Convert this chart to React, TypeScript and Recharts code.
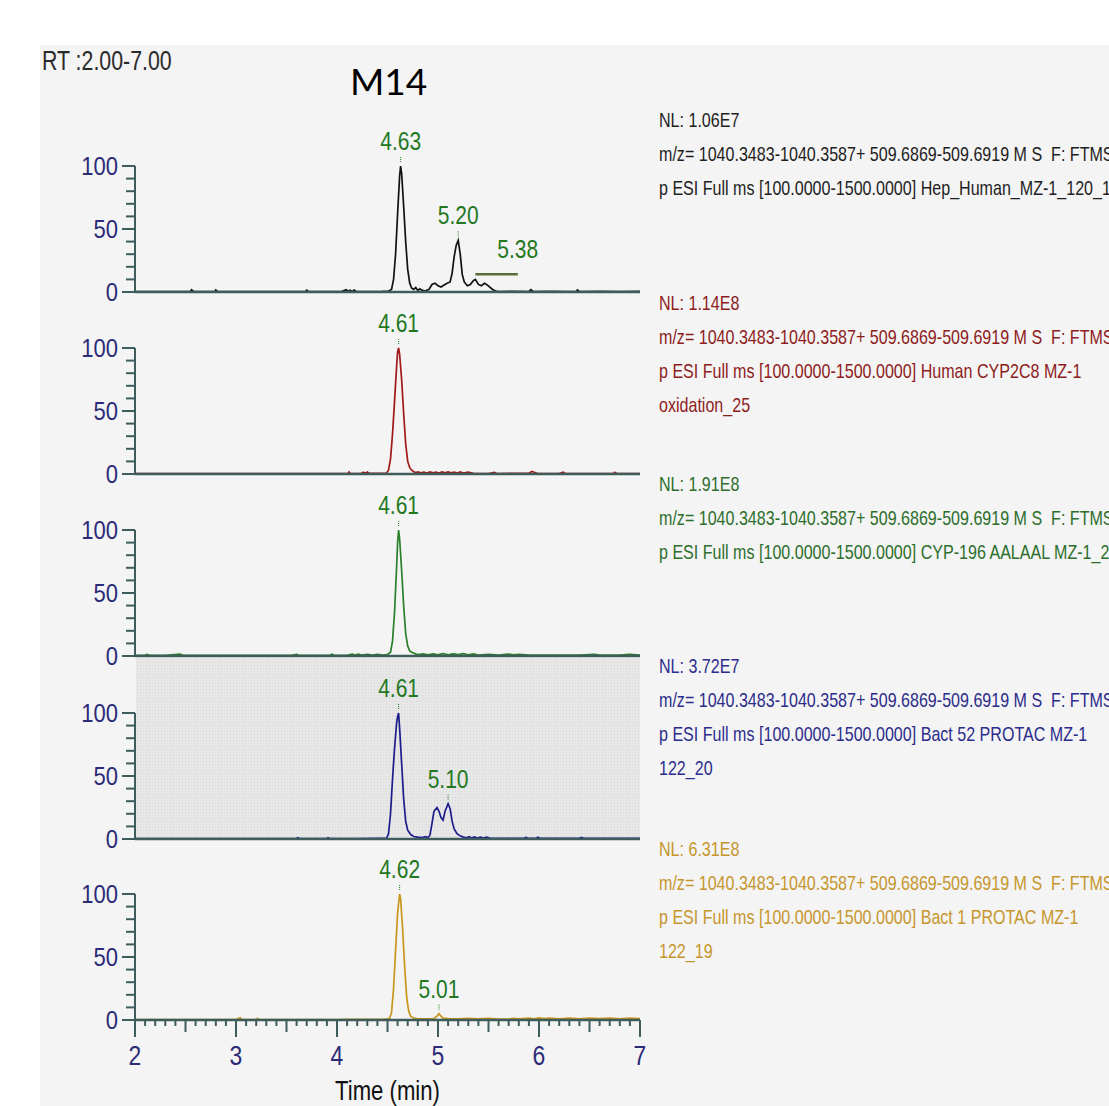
import { LineChart, Line, XAxis, YAxis, ReferenceDot, ReferenceLine } from 'recharts';

// [retention time (min), relative abundance (%)]
const hepTrace: [number, number][] = [
	[2.0, 0.3], [2.2, 0.4], [2.4, 0.3], [2.55, 0.4], [2.56, 1.8], [2.58, 0.4], [2.7, 0.3], [2.79, 0.4], [2.8, 1.6], [2.82, 0.3],
	[3.0, 0.4], [3.3, 0.3], [3.6, 0.4], [3.69, 0.4], [3.7, 1.5], [3.72, 0.3], [3.9, 0.4], [4.05, 0.5], [4.09, 1.8], [4.11, 0.6],
	[4.13, 1.4], [4.15, 0.5], [4.17, 1.6], [4.19, 0.5], [4.3, 0.4], [4.45, 0.5], [4.51, 0.8], [4.54, 2], [4.56, 10], [4.58, 30],
	[4.6, 62], [4.62, 92], [4.63, 100], [4.64, 94], [4.66, 68], [4.68, 40], [4.7, 18], [4.72, 7], [4.74, 3], [4.76, 2],
	[4.78, 3.5], [4.8, 1.2], [4.82, 2.5], [4.84, 1.5], [4.86, 1.0], [4.88, 1.2], [4.91, 2], [4.94, 6], [4.97, 7], [5.0, 5],
	[5.03, 4], [5.06, 5.5], [5.09, 7], [5.12, 8], [5.14, 15], [5.16, 28], [5.18, 37], [5.2, 41], [5.22, 30], [5.24, 14],
	[5.26, 8], [5.29, 5], [5.32, 6], [5.35, 9], [5.37, 10], [5.4, 6], [5.43, 5], [5.46, 7], [5.48, 6], [5.51, 4],
	[5.54, 2], [5.57, 0.8], [5.6, 0.4], [5.75, 0.5], [5.9, 0.4], [5.92, 1.8], [5.94, 0.4], [6.1, 0.5], [6.3, 0.4], [6.37, 0.4],
	[6.38, 1.6], [6.4, 0.4], [6.6, 0.5], [6.8, 0.4], [7.0, 0.5],
];

const cyp2c8Trace: [number, number][] = [
	[2.0, 0.3], [2.3, 0.4], [2.6, 0.3], [2.9, 0.4], [3.2, 0.3], [3.5, 0.4], [3.8, 0.3], [4.0, 0.4], [4.11, 0.4], [4.12, 1.6],
	[4.13, 0.4], [4.24, 0.5], [4.26, 1.4], [4.28, 0.6], [4.3, 1.5], [4.32, 0.5], [4.45, 0.6], [4.49, 0.8], [4.51, 3], [4.53, 12],
	[4.55, 32], [4.57, 58], [4.59, 85], [4.6, 97], [4.61, 100], [4.62, 95], [4.64, 75], [4.66, 48], [4.68, 24], [4.7, 10],
	[4.72, 5], [4.74, 3], [4.76, 1.8], [4.78, 1.2], [4.8, 1.6], [4.83, 0.9], [4.86, 1.5], [4.89, 0.8], [4.92, 1.6], [4.95, 0.9],
	[4.98, 1.5], [5.01, 0.8], [5.04, 1.6], [5.07, 1.0], [5.1, 1.7], [5.13, 0.9], [5.16, 1.5], [5.19, 0.8], [5.22, 1.6], [5.25, 0.8],
	[5.3, 1.4], [5.35, 0.5], [5.5, 0.4], [5.56, 1.2], [5.58, 0.4], [5.8, 0.5], [5.9, 0.6], [5.93, 2.0], [5.96, 1.2], [5.98, 0.5],
	[6.2, 0.4], [6.24, 1.4], [6.26, 0.4], [6.5, 0.4], [6.74, 0.4], [6.75, 1.3], [6.77, 0.4], [7.0, 0.4],
];

const cyp196Trace: [number, number][] = [
	[2.0, 0.5], [2.1, 0.6], [2.12, 1.3], [2.14, 0.5], [2.3, 0.6], [2.45, 1.4], [2.47, 0.6], [2.6, 0.5], [2.8, 0.6], [3.0, 0.5],
	[3.2, 0.6], [3.4, 0.5], [3.55, 0.6], [3.6, 1.3], [3.62, 0.5], [3.8, 0.6], [3.93, 0.6], [3.95, 1.5], [3.97, 0.6], [4.1, 0.6],
	[4.15, 1.4], [4.18, 0.7], [4.21, 1.5], [4.24, 0.7], [4.3, 1.3], [4.35, 0.8], [4.4, 1.4], [4.45, 0.8], [4.5, 1.2], [4.53, 3],
	[4.55, 12], [4.57, 35], [4.59, 70], [4.6, 90], [4.61, 100], [4.62, 93], [4.64, 68], [4.66, 40], [4.68, 18], [4.7, 8],
	[4.72, 4], [4.74, 3], [4.76, 2.4], [4.78, 1.5], [4.81, 1.2], [4.85, 1.6], [4.9, 0.9], [4.95, 1.6], [5.0, 1.0], [5.05, 1.8],
	[5.1, 1.0], [5.15, 1.7], [5.2, 1.1], [5.25, 1.8], [5.3, 1.0], [5.35, 1.6], [5.4, 0.8], [5.5, 1.3], [5.6, 0.8], [5.7, 1.5],
	[5.75, 0.9], [5.8, 1.4], [5.9, 0.8], [6.0, 0.7], [6.2, 0.8], [6.4, 0.7], [6.55, 1.4], [6.6, 0.8], [6.8, 0.7], [6.9, 1.3],
	[7.0, 0.7],
];

const bact52Trace: [number, number][] = [
	[2.0, 0.3], [2.3, 0.4], [2.6, 0.3], [3.0, 0.4], [3.2, 0.3], [3.6, 0.4], [3.61, 1.0], [3.63, 0.4], [3.9, 0.3], [3.91, 1.0],
	[3.93, 0.3], [4.2, 0.4], [4.4, 0.5], [4.49, 0.6], [4.51, 4], [4.53, 20], [4.55, 48], [4.57, 72], [4.59, 92], [4.6, 97],
	[4.61, 100], [4.62, 88], [4.64, 60], [4.66, 32], [4.68, 14], [4.7, 7], [4.73, 3.5], [4.76, 2], [4.8, 1.5], [4.84, 1.2],
	[4.88, 1.8], [4.9, 1.0], [4.92, 3], [4.94, 12], [4.96, 22], [4.99, 25], [5.01, 22], [5.03, 17], [5.05, 15], [5.07, 22],
	[5.1, 28], [5.12, 24], [5.14, 14], [5.16, 8], [5.19, 4], [5.22, 2.5], [5.25, 1.5], [5.28, 1.0], [5.31, 1.8], [5.33, 0.8],
	[5.36, 1.6], [5.39, 0.8], [5.42, 1.5], [5.45, 0.8], [5.48, 1.4], [5.52, 0.6], [5.6, 0.5], [5.85, 0.6], [5.87, 1.3], [5.89, 0.5],
	[5.97, 0.5], [5.99, 1.4], [6.01, 0.5], [6.3, 0.5], [6.4, 0.6], [6.42, 1.2], [6.44, 0.5], [6.6, 0.5], [6.8, 0.6], [7.0, 0.5],
];

const bact1Trace: [number, number][] = [
	[2.0, 0.3], [2.5, 0.4], [3.0, 0.3], [3.04, 1.8], [3.06, 0.4], [3.2, 0.4], [3.21, 1.2], [3.23, 0.4], [3.6, 0.4], [3.8, 0.3],
	[4.0, 0.4], [4.1, 0.6], [4.3, 0.5], [4.47, 0.6], [4.52, 1.2], [4.54, 6], [4.56, 25], [4.58, 55], [4.6, 85], [4.62, 100],
	[4.63, 96], [4.65, 72], [4.67, 42], [4.69, 18], [4.71, 7], [4.73, 3], [4.76, 1.5], [4.8, 1.0], [4.9, 0.9], [4.96, 1.2],
	[4.99, 3], [5.01, 5], [5.03, 3], [5.05, 1.5], [5.1, 1.2], [5.2, 0.9], [5.3, 1.4], [5.4, 0.9], [5.5, 1.3], [5.6, 0.8],
	[5.7, 0.7], [5.75, 1.3], [5.8, 1.0], [5.9, 1.6], [5.95, 1.0], [6.0, 1.7], [6.05, 1.1], [6.1, 1.6], [6.2, 1.0], [6.3, 1.5],
	[6.4, 1.0], [6.5, 1.6], [6.6, 1.1], [6.7, 1.5], [6.8, 1.0], [6.9, 1.6], [7.0, 1.1],
];

// apex annotations: [time, abundance, label]
const hepPeaks: [number, number, string][] = [[4.63, 100, '4.63'], [5.2, 41, '5.20'], [5.79, 14, '5.38']];
const cyp2c8Peaks: [number, number, string][] = [[4.61, 100, '4.61']];
const cyp196Peaks: [number, number, string][] = [[4.61, 100, '4.61']];
const bact52Peaks: [number, number, string][] = [[4.61, 100, '4.61'], [5.1, 28, '5.10']];
const bact1Peaks: [number, number, string][] = [[4.62, 100, '4.62'], [5.01, 5, '5.01']];

const mzLine = 'm/z= 1040.3483-1040.3587+ 509.6869-509.6919 M S  F: FTMS';
const hepInfo = ['NL: 1.06E7', mzLine, 'p ESI Full ms [100.0000-1500.0000] Hep_Human_MZ-1_120_1'];
const cyp2c8Info = ['NL: 1.14E8', mzLine, 'p ESI Full ms [100.0000-1500.0000] Human CYP2C8 MZ-1', 'oxidation_25'];
const cyp196Info = ['NL: 1.91E8', mzLine, 'p ESI Full ms [100.0000-1500.0000] CYP-196 AALAAL MZ-1_2'];
const bact52Info = ['NL: 3.72E7', mzLine, 'p ESI Full ms [100.0000-1500.0000] Bact 52 PROTAC MZ-1', '122_20'];
const bact1Info = ['NL: 6.31E8', mzLine, 'p ESI Full ms [100.0000-1500.0000] Bact 1 PROTAC MZ-1', '122_19'];

const yTicks = [0, 10, 20, 30, 40, 50, 60, 70, 80, 90, 100];
const xTicks = [
	2, 2.1, 2.2, 2.3, 2.4, 2.5, 2.6, 2.7, 2.8, 2.9, 3, 3.1, 3.2, 3.3, 3.4, 3.5, 3.6, 3.7, 3.8, 3.9,
	4, 4.1, 4.2, 4.3, 4.4, 4.5, 4.6, 4.7, 4.8, 4.9, 5, 5.1, 5.2, 5.3, 5.4, 5.5, 5.6, 5.7, 5.8, 5.9,
	6, 6.1, 6.2, 6.3, 6.4, 6.5, 6.6, 6.7, 6.8, 6.9, 7,
];

const FONT = '"Liberation Sans", Arial, sans-serif';
const AXIS = '#3e5c5c';
const TICK_TEXT = '#2b2b78';
const PEAK_TEXT = '#23781f';
const PLOT_LEFT = 135;
const PLOT_W = 505;
const PLOT_H = 126;
const TOP_PAD = 50;

const panels = [
	{ trace: hepTrace, peaks: hepPeaks, info: hepInfo, color: '#111111', text: '#1e1e1e', top: 166, infoTop: 120, bracket: true },
	{ trace: cyp2c8Trace, peaks: cyp2c8Peaks, info: cyp2c8Info, color: '#a01818', text: '#8e1c1c', top: 348, infoTop: 303, bracket: false },
	{ trace: cyp196Trace, peaks: cyp196Peaks, info: cyp196Info, color: '#2a7f2a', text: '#2d6e2d', top: 530, infoTop: 484, bracket: false },
	{ trace: bact52Trace, peaks: bact52Peaks, info: bact52Info, color: '#1c1c8c', text: '#2c2c8c', top: 713, infoTop: 666, bracket: false },
	{ trace: bact1Trace, peaks: bact1Peaks, info: bact1Info, color: '#c8961a', text: '#c6962e', top: 894, infoTop: 849, bracket: false },
];

const YTick = (props: any) => {
	const { x, y, payload } = props;
	const major = payload.value % 50 === 0;
	return (
		<g>
			<line x1={x - (major ? 13 : 9)} x2={x} y1={y} y2={y} stroke={AXIS} strokeWidth={2} />
			{major && (
				<text transform={`translate(${x - 17},${y + 9}) scale(0.88,1)`} textAnchor="end" fontSize={25} fontFamily={FONT} fill={TICK_TEXT}>
					{payload.value}
				</text>
			)}
		</g>
	);
};

const XTick = (props: any) => {
	const { x, y, payload } = props;
	const v = payload.value;
	const whole = Math.abs(v - Math.round(v)) < 1e-6;
	const half = Math.abs(v * 2 - Math.round(v * 2)) < 1e-6;
	const len = whole ? 17 : half ? 12 : 6;
	return (
		<g>
			<line x1={x} x2={x} y1={y} y2={y + len} stroke={AXIS} strokeWidth={2} />
			{whole && (
				<text transform={`translate(${x},${y + 45}) scale(0.85,1)`} textAnchor="middle" fontSize={27} fontFamily={FONT} fill={TICK_TEXT}>
					{Math.round(v)}
				</text>
			)}
		</g>
	);
};

const TimeLabel = (props: any) => {
	const { x, y, width } = props.viewBox;
	return (
		<text transform={`translate(${x + width / 2},${y + 80}) scale(0.82,1)`} textAnchor="middle" fontSize={27} fontFamily={FONT} fill="#111">
			Time (min)
		</text>
	);
};

const PeakMark = (props: any) => {
	const { cx, cy, label, mark } = props;
	return (
		<g>
			{mark && <line x1={cx} x2={cx} y1={cy - 9} y2={cy - 4} stroke={PEAK_TEXT} strokeWidth={1} strokeDasharray="1 1" />}
			<text transform={`translate(${cx},${cy - 16}) scale(0.84,1)`} textAnchor="middle" fontSize={25} fontFamily={FONT} fill={PEAK_TEXT}>
				{label}
			</text>
		</g>
	);
};

const Chromatogram = ({ panel, last }: { panel: (typeof panels)[number]; last: boolean }) => {
	const rows = panel.trace.map(([t, v]) => ({ t, v }));
	const bottom = last ? 95 : 16;
	return (
		<div style={{ position: 'absolute', left: 0, top: panel.top - TOP_PAD }}>
			<LineChart
				width={PLOT_LEFT + PLOT_W + 20}
				height={TOP_PAD + PLOT_H + bottom}
				data={rows}
				margin={{ top: TOP_PAD, right: 20, left: 0, bottom: 0 }}
			>
				<XAxis
					type="number"
					dataKey="t"
					domain={[2, 7]}
					ticks={last ? xTicks : []}
					interval={0}
					height={bottom}
					tickSize={0}
					tickMargin={0}
					tickLine={false}
					tick={last ? (p: any) => <XTick {...p} /> : false}
					axisLine={{ stroke: AXIS, strokeWidth: 2.5 }}
					label={last ? (p: any) => <TimeLabel {...p} /> : undefined}
				/>
				<YAxis
					type="number"
					domain={[0, 100]}
					ticks={yTicks}
					interval={0}
					width={PLOT_LEFT}
					tickSize={0}
					tickMargin={0}
					tickLine={false}
					tick={(p: any) => <YTick {...p} />}
					axisLine={{ stroke: AXIS, strokeWidth: 2 }}
				/>
				{panel.bracket && (
					<ReferenceLine
						segment={[{ x: 5.37, y: 14 }, { x: 5.79, y: 14 }]}
						stroke="#5b6e3a"
						strokeWidth={2.5}
					/>
				)}
				<Line type="linear" dataKey="v" stroke={panel.color} strokeWidth={1.7} dot={false} isAnimationActive={false} />
				{panel.peaks.map(([t, v, label], i) => (
					<ReferenceDot
						key={i}
						x={t}
						y={v}
						r={0}
						shape={(s: any) => <PeakMark {...s} label={label} mark={!(panel.bracket && i === 2)} />}
					/>
				))}
			</LineChart>
		</div>
	);
};

const App = () => {
	return (
		<div style={{ position: 'absolute', left: 0, top: 0, width: 1109, height: 1106, overflow: 'hidden', background: '#fff', fontFamily: FONT }}>
			<div style={{ position: 'absolute', left: 40, top: 45, width: 1069, height: 1061, background: '#f4f4f4' }} />
			<div
				style={{
					position: 'absolute',
					left: 136,
					top: 658,
					width: 504,
					height: 181,
					backgroundColor: '#e7e7e7',
					backgroundImage: 'radial-gradient(#d6d6d6 0.7px, transparent 0.8px)',
					backgroundSize: '3px 3px',
				}}
			/>
			<div style={{ position: 'absolute', left: 42, top: 46, fontSize: 27, color: '#2a2a2a', transform: 'scaleX(0.79)', transformOrigin: 'left', whiteSpace: 'nowrap' }}>
				RT :2.00-7.00
			</div>
			<div style={{ position: 'absolute', left: 350, top: 58, fontSize: 37, fontFamily: 'Lato, "Open Sans", sans-serif', color: '#000' }}>M14</div>
			{panels.map((p, i) => (
				<Chromatogram key={i} panel={p} last={i === panels.length - 1} />
			))}
			{panels.map((p, i) =>
				p.info.map((line, j) => (
					<div
						key={`${i}-${j}`}
						style={{
							position: 'absolute',
							left: 659,
							top: p.infoTop - 13 + j * 34,
							fontSize: 21,
							lineHeight: '26px',
							color: p.text,
							transform: 'scaleX(0.765)',
							transformOrigin: 'left',
							whiteSpace: 'pre',
						}}
					>
						{line}
					</div>
				))
			)}
		</div>
	);
};

export default App;
